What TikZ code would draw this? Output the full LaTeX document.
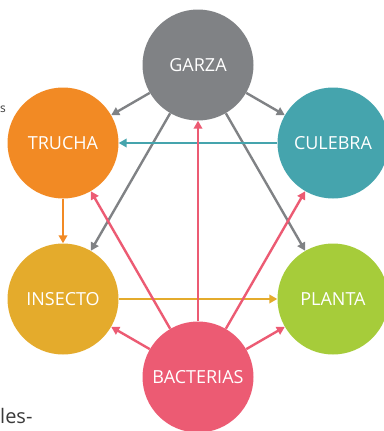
\documentclass[tikz,border=0pt]{standalone}
\usepackage{fontspec}
\setmainfont{Open Sans}
\usetikzlibrary{arrows.meta}
\definecolor{gris}{HTML}{808285}
\definecolor{naranja}{HTML}{F28A24}
\definecolor{turquesa}{HTML}{45A4AD}
\definecolor{mostaza}{HTML}{E4AB2C}
\definecolor{verde}{HTML}{A6CC3A}
\definecolor{rosa}{HTML}{EC5B73}
\definecolor{texto}{HTML}{3A3A3A}

\begin{document}
\begin{tikzpicture}[x=1pt,y=-1pt,
	ser/.style={circle,minimum size=111pt,inner sep=0pt,text=white,
		font=\fontsize{18}{18}\selectfont},
	flecha/.style={-{Triangle[length=8pt,width=8.5pt]},line width=2.4pt},
	pagina/.style={text=texto,font=\fontsize{20}{20}\selectfont,inner sep=0pt}]
	\useasboundingbox (0,0) rectangle (383,431);
	
	\node[ser,fill=gris] (garza) at (198,65) {GARZA};
	\node[ser,fill=naranja] (trucha) at (63,143) {TRUCHA};
	\node[ser,fill=turquesa] (culebra) at (333,143) {CULEBRA};
	\node[ser,fill=mostaza] (insecto) at (63,299) {INSECTO};
	\node[ser,fill=verde] (planta) at (333,299) {PLANTA};
	\node[ser,fill=rosa] (bacterias) at (198,377) {BACTERIAS};
	
	% garza
	\draw[flecha,gris] (garza) -- (trucha);
	\draw[flecha,gris] (garza) -- (culebra);
	\draw[flecha,gris] (garza) -- (insecto);
	\draw[flecha,gris] (garza) -- (planta);
	
	\draw[flecha,turquesa] (culebra) -- (trucha);
	\draw[flecha,naranja] (trucha) -- (insecto);
	\draw[flecha,mostaza] (insecto) -- (planta);
	
	% bacterias
	\draw[flecha,rosa] (bacterias) -- (trucha);
	\draw[flecha,rosa] (bacterias) -- (garza);
	\draw[flecha,rosa] (bacterias) -- (culebra);
	\draw[flecha,rosa] (bacterias) -- (insecto);
	\draw[flecha,rosa] (bacterias) -- (planta);
	
	% restos del texto de la pagina
	\node[pagina,anchor=base west] (les) at (0,423) {les-};
	\node[pagina,anchor=base west,font=\fontsize{12}{12}\selectfont] (ese) at (0,112) {s};
\end{tikzpicture}
\end{document}
